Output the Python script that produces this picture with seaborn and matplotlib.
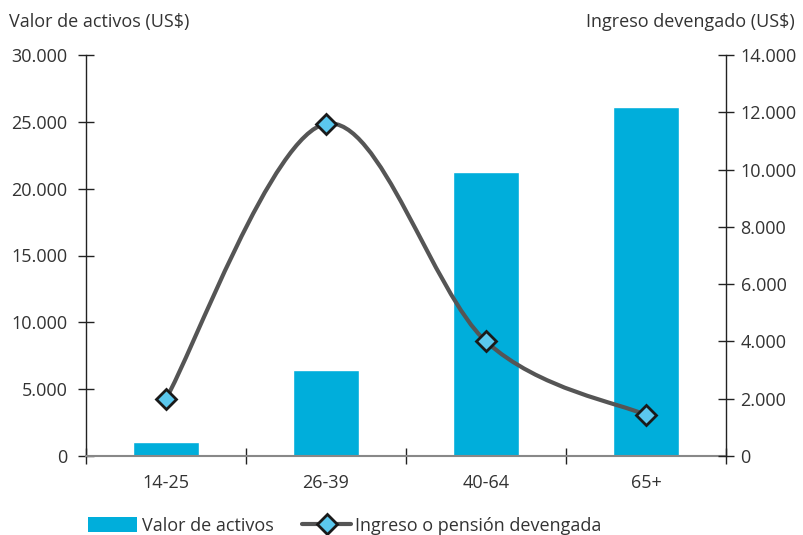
import matplotlib
matplotlib.use("Agg")
import matplotlib.pyplot as plt
from matplotlib.path import Path
from matplotlib.patches import PathPatch, Patch
from matplotlib.lines import Line2D
from matplotlib.ticker import FuncFormatter, MultipleLocator, FixedLocator
import numpy as np
import pandas as pd
import seaborn as sns

# data
grupos = ["14-25", "26-39", "40-64", "65+"]
valor_activos = [1050, 6450, 21250, 26100]
ingreso_devengado = [2000, 11600, 4000, 1430]

sns.set_theme(style="white")
plt.rcParams['font.family'] = ['Open Sans', 'DejaVu Sans']
txt = "#333333"
bar_col = "#00AEDB"
line_col = "#555555"
fs = 13

df = pd.DataFrame({"grupo": grupos, "activos": valor_activos, "ingreso": ingreso_devengado})

fig = plt.figure(figsize=(8.04, 5.35), dpi=100)
ax = fig.add_axes([86 / 804, 79 / 535, 640 / 804, 401 / 535])
sns.barplot(data=df, x="grupo", y="activos", color=bar_col, width=0.41,
            saturation=1, ax=ax)
ax.set_xlim(-0.5, 3.5)
ax.set_ylim(0, 30000)
ax.yaxis.set_major_locator(MultipleLocator(5000))

def miles(v, pos):
    return f"{int(v):,}".replace(",", ".")

ax.yaxis.set_major_formatter(FuncFormatter(miles))
ax.set_xlabel("")
ax.set_ylabel("")

ax2 = ax.twinx()
ax2.set_ylim(0, 14000)
ax2.yaxis.set_major_locator(MultipleLocator(2000))
ax2.yaxis.set_major_formatter(FuncFormatter(miles))

# smoothed line (Catmull-Rom style bezier through the points)
xs = np.arange(len(grupos), dtype=float)
ys = np.array(ingreso_devengado, dtype=float)
pts = np.column_stack([xs, ys])
verts = [pts[0]]
codes = [Path.MOVETO]
n = len(pts)
for i in range(n - 1):
    p0 = pts[max(i - 1, 0)]
    p1 = pts[i]
    p2 = pts[i + 1]
    p3 = pts[min(i + 2, n - 1)]
    c1 = p1 + (p2 - p0) / 6
    c2 = p2 - (p3 - p1) / 6
    verts += [c1, c2, p2]
    codes += [Path.CURVE4] * 3
ax2.add_patch(PathPatch(Path(verts, codes), facecolor="none",
                        edgecolor=line_col, lw=3, zorder=3))
ax2.plot(xs, ys, linestyle="none", marker="D", ms=10.5, mfc="#5BC8EE",
         mec="#1a1a1a", mew=2, zorder=4)

# spines and ticks
for a in (ax, ax2):
    a.spines["top"].set_visible(False)
    a.spines["left"].set_color("#222222")
    a.spines["right"].set_color("#222222")
    a.spines["bottom"].set_color("#888888")
    a.spines["left"].set_linewidth(1)
    a.spines["right"].set_linewidth(1)
    a.spines["bottom"].set_linewidth(1.5)
ax2.spines["left"].set_visible(False)
ax2.spines["bottom"].set_visible(False)
ax.spines["right"].set_visible(False)

ax.tick_params(axis="y", direction="inout", length=11, width=1, color="#222222",
               labelsize=fs, labelcolor=txt, pad=8, left=True)
ax2.tick_params(axis="y", direction="inout", length=11, width=1, color="#222222",
                labelsize=fs, labelcolor=txt, pad=5, right=True)
ax.tick_params(axis="x", which="major", length=0, labelsize=fs,
               labelcolor=txt, pad=13)
ax.xaxis.set_minor_locator(FixedLocator(np.arange(-0.5, 4, 1.0)))
ax.tick_params(axis="x", which="minor", direction="inout", length=11, width=1,
               color="#222222", bottom=True)

fig.text(9 / 804, 1 - 22 / 535, "Valor de activos (US$)", fontsize=fs,
         color=txt, ha="left", va="center")
fig.text(795 / 804, 1 - 22 / 535, "Ingreso devengado (US$)", fontsize=fs,
         color=txt, ha="right", va="center")

handles = [Patch(facecolor=bar_col, edgecolor="none"),
           Line2D([0], [0], color=line_col, lw=3, marker="D", ms=10.5,
                  mfc="#5BC8EE", mec="#1a1a1a", mew=2)]
fig.legend(handles, ["Valor de activos", "Ingreso o pensión devengada"],
           loc="lower left", bbox_to_anchor=(72 / 804, -16 / 535), ncol=2,
           frameon=False, fontsize=fs, labelcolor=txt, handlelength=2.7,
           handleheight=0.95, handletextpad=0.25, columnspacing=1.6)

fig.savefig("out.png", dpi=100)
